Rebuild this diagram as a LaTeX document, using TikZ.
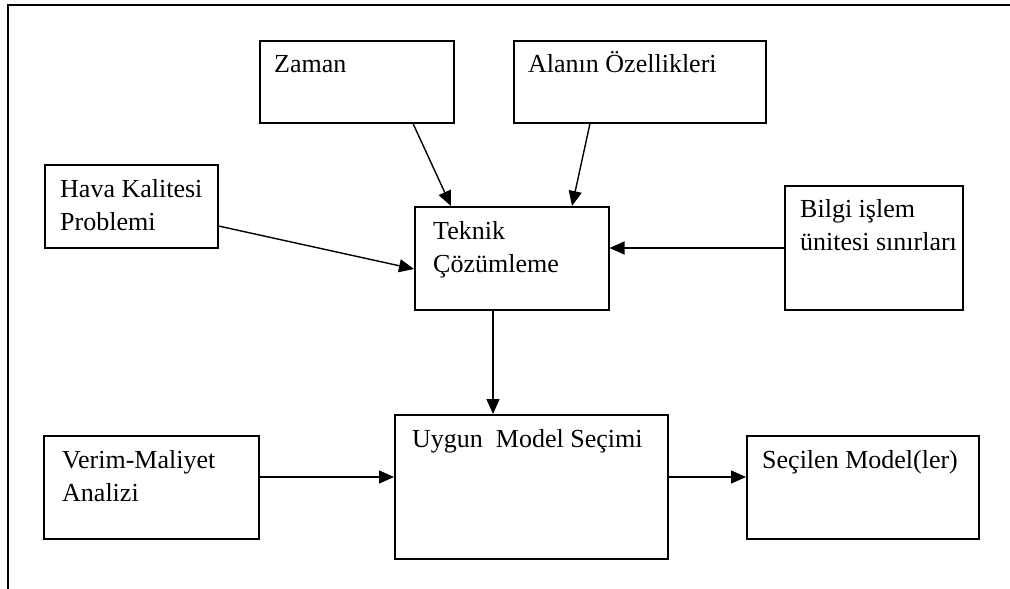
\documentclass[tikz,border=0pt]{standalone}
\usepackage{fontspec}
\setmainfont{Liberation Serif}
\usetikzlibrary{arrows.meta,calc}
\tikzset{
  box/.style={draw, line width=1.5pt, inner sep=0pt, anchor=north west},
  txt/.style={anchor=base west, inner sep=0pt, font=\fontsize{26}{33}\selectfont, align=left},
  arr/.style={line width=1.4pt, -{Triangle[length=15pt,width=13pt]}},
  frame/.style={line width=1.6pt}
}
\begin{document}
\begin{tikzpicture}[x=1pt,y=-1pt]
\useasboundingbox (0,0) rectangle (1010,589);
% outer frame (partially visible)
\draw[frame] (1010,5) -- (8,5) -- (8,589);
% boxes
\node[box, minimum width=194pt, minimum height=82pt] (zaman) at (259,40) {};
\node[box, minimum width=252pt, minimum height=82pt] (alan) at (513,40) {};
\node[box, minimum width=173pt, minimum height=83pt] (hava) at (44,164) {};
\node[box, minimum width=194pt, minimum height=103pt] (teknik) at (414,206) {};
\node[box, minimum width=178pt, minimum height=124pt] (bilgi) at (784,185) {};
\node[box, minimum width=273pt, minimum height=144pt] (uygun) at (394,414) {};
\node[box, minimum width=215pt, minimum height=103pt] (verim) at (43,435) {};
\node[box, minimum width=232pt, minimum height=103pt] (secilen) at (746,435) {};
% texts (base anchor of a two-line node is the baseline of its last line)
\node[txt] (tzaman) at ($(zaman.north west)+(15,32)$) {Zaman};
\node[txt] (talan) at ($(alan.north west)+(15,32)$) {Alanın Özellikleri};
\node[txt] (thava) at ($(hava.north west)+(16,66)$) {Hava Kalitesi\\Problemi};
\node[txt] (tteknik) at ($(teknik.north west)+(19,66)$) {Teknik\\Çözümleme};
\node[txt] (tbilgi) at ($(bilgi.north west)+(16,65)$) {Bilgi işlem\\ünitesi sınırları};
\node[txt] (tuygun) at ($(uygun.north west)+(18,33)$) {Uygun\ \ Model Seçimi};
\node[txt] (tverim) at ($(verim.north west)+(19,66)$) {Verim-Maliyet\\Analizi};
\node[txt] (tsecilen) at ($(secilen.north west)+(16,33)$) {Seçilen Model(ler)};
% connectors
\draw[arr] ([xshift=154pt]zaman.south west) -- ([xshift=37pt]teknik.north west);
\draw[arr] ([xshift=77pt]alan.south west) -- ([xshift=158pt]teknik.north west);
\draw[arr] ([yshift=-62pt]hava.north east) -- ([yshift=-63pt]teknik.north west);
\draw[arr] ([yshift=-63pt]bilgi.north west) -- ([yshift=-42pt]teknik.north east);
\draw[arr] ([xshift=79pt]teknik.south west) -- ([xshift=99pt]uygun.north west);
\draw[arr] ([yshift=-42pt]verim.north east) -- ([yshift=-63pt]uygun.north west);
\draw[arr] ([yshift=-63pt]uygun.north east) -- ([yshift=-42pt]secilen.north west);
\end{tikzpicture}
\end{document}
